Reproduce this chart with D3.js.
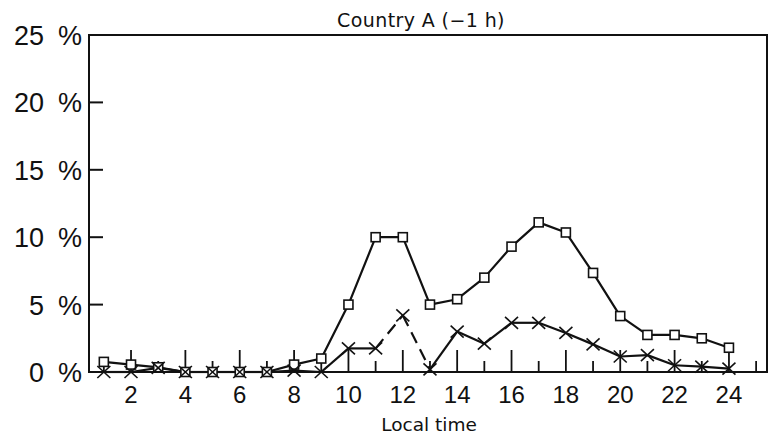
<!DOCTYPE html>
<html>
<head>
<meta charset="utf-8">
<script src="https://cdn.jsdelivr.net/npm/d3@7"></script>
<style>
  html, body { margin: 0; padding: 0; background: #fff; }
  svg { display: block; }
</style>
</head>
<body>
<svg id="chart" width="768" height="439"></svg>
<script>
// ---- data ----
const title = "Country A (\u22121 h)";
const xTitle = "Local time";
const hours = [1,2,3,4,5,6,7,8,9,10,11,12,13,14,15,16,17,18,19,20,21,22,23,24];
const seriesSquare = [0.75,0.55,0.35,0,0,0,0,0.55,1.0,5.0,10.0,10.0,5.0,5.4,7.0,9.3,11.1,10.35,7.35,4.15,2.75,2.75,2.5,1.8];
const seriesCross  = [0,0,0.3,0,0,0,0,0.1,0,1.75,1.75,4.2,0.2,3.0,2.1,3.65,3.65,2.9,2.05,1.15,1.25,0.5,0.4,0.25];
const xTickLabels = [2,4,6,8,10,12,14,16,18,20,22,24];
const xTickMarks = [1,2,3,4,5,6,7,8,9,10,11,12,13,14,15,16,17,18,19,20,21,22,23,24,25];
const yTickValues = [0,5,10,15,20,25];
const crossDashedFrom = [11,12]; // segments of the cross series drawn dashed (start hour)

// ---- layout ----
const svg = d3.select("#chart");
const x = d3.scaleLinear().domain([0.454, 25.4]).range([89, 767]);
const y = d3.scaleLinear().domain([0, 25]).range([372, 35]);
const ink = "#111";

// frame
svg.append("rect")
  .attr("x", x(0.454)).attr("y", y(25))
  .attr("width", x(25.4) - x(0.454)).attr("height", y(0) - y(25))
  .attr("fill", "none").attr("stroke", ink).attr("stroke-width", 2);

// y ticks (inward)
svg.selectAll(".ytick").data(yTickValues.filter(v => v > 0 && v < 25)).enter()
  .append("line")
  .attr("x1", x(0.454)).attr("x2", x(0.454) + 14)
  .attr("y1", d => y(d)).attr("y2", d => y(d))
  .attr("stroke", ink).attr("stroke-width", 2);

// y labels
const yl = svg.append("g").attr("font-family", "Liberation Sans, Arial, sans-serif")
  .attr("font-size", 27).attr("fill", ink);
yl.selectAll(".ynum").data(yTickValues).enter().append("text")
  .attr("x", 44).attr("y", d => y(d) + 10).attr("text-anchor", "end")
  .text(d => d);
yl.selectAll(".ypct").data(yTickValues).enter().append("text")
  .attr("x", 58).attr("y", d => y(d) + 10).attr("text-anchor", "start")
  .text("%");

// x tick marks (upward, long on even hours)
svg.selectAll(".xtick").data(xTickMarks).enter().append("line")
  .attr("x1", d => x(d)).attr("x2", d => x(d))
  .attr("y1", y(0)).attr("y2", d => y(0) - (d % 2 === 0 ? 22 : 11))
  .attr("stroke", ink).attr("stroke-width", 1.8);

// x labels
svg.append("g").attr("font-family", "Liberation Sans, Arial, sans-serif")
  .attr("font-size", 24).attr("fill", ink)
  .selectAll("text").data(xTickLabels).enter().append("text")
  .attr("x", d => x(d)).attr("y", 403).attr("text-anchor", "middle")
  .text(d => d);

// titles
svg.append("text").attr("x", 421).attr("y", 26.5).attr("text-anchor", "middle")
  .attr("font-family", "DejaVu Sans, sans-serif").attr("font-size", 19)
  .attr("letter-spacing", 0.4).attr("fill", ink).text(title);
svg.append("text").attr("x", 429).attr("y", 431).attr("text-anchor", "middle")
  .attr("font-family", "DejaVu Sans, sans-serif").attr("font-size", 18.5)
  .attr("fill", ink).text(xTitle);

// lines
const sqData = hours.map((h, i) => [h, seriesSquare[i]]);
const crData = hours.map((h, i) => [h, seriesCross[i]]);
const line = d3.line().x(d => x(d[0])).y(d => y(d[1]));

svg.append("path").datum(sqData).attr("d", line)
  .attr("fill", "none").attr("stroke", ink).attr("stroke-width", 2.2).attr("stroke-linejoin", "round");

// cross series: segment by segment so some are dashed
const segs = d3.pairs(crData);
svg.selectAll(".crseg").data(segs).enter().append("path")
  .attr("d", d => line(d))
  .attr("fill", "none").attr("stroke", ink).attr("stroke-width", 2.2)
  .attr("stroke-dasharray", d => crossDashedFrom.includes(d[0][0]) ? "12,7" : null);

// square markers
svg.selectAll(".sq").data(sqData).enter().append("rect")
  .attr("x", d => x(d[0]) - 4.5).attr("y", d => y(d[1]) - 4.5)
  .attr("width", 9).attr("height", 9)
  .attr("fill", "#fff").attr("stroke", ink).attr("stroke-width", 1.6);

// cross markers
const cr = svg.selectAll(".cr").data(crData).enter().append("g")
  .attr("transform", d => `translate(${x(d[0])},${y(d[1])})`);
cr.append("line").attr("x1", -6.5).attr("y1", -6).attr("x2", 6.5).attr("y2", 6)
  .attr("stroke", ink).attr("stroke-width", 1.6);
cr.append("line").attr("x1", -6.5).attr("y1", 6).attr("x2", 6.5).attr("y2", -6)
  .attr("stroke", ink).attr("stroke-width", 1.6);
</script>
</body>
</html>
